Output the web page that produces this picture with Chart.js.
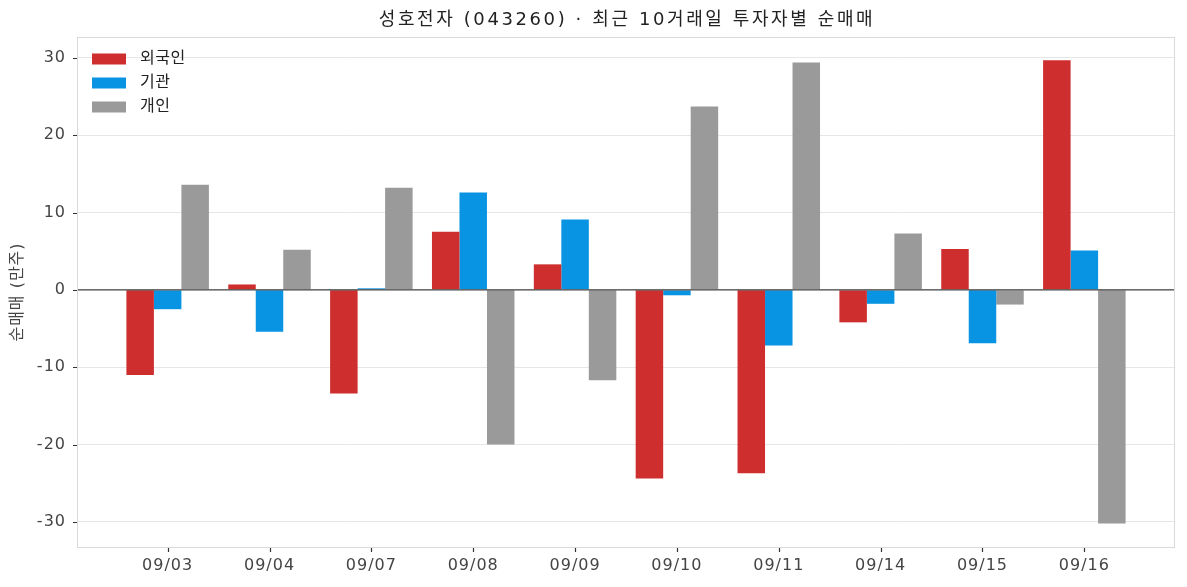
<!DOCTYPE html>
<html>
<head>
<meta charset="utf-8">
<script src="https://cdn.jsdelivr.net/npm/chart.js@4.4.1/dist/chart.umd.min.js"></script>
<style>
html,body{margin:0;padding:0;background:#fff;}
#wrap{width:1187px;height:587px;position:relative;}
</style>
</head>
<body>
<div id="wrap"><canvas id="c" width="1187" height="587"></canvas></div>
<script>
const titleText = '성호전자 (043260) · 최근 10거래일 투자자별 순매매';
const yTitle = '순매매 (만주)';
const dates = ['09/03','09/04','09/07','09/08','09/09','09/10','09/11','09/14','09/15','09/16'];
const foreign = [-11.0, 0.7, -13.4, 7.5, 3.3, -24.4, -23.7, -4.2, 5.3, 29.7];
const institution = [-2.5, -5.4, 0.2, 12.6, 9.1, -0.7, -7.2, -1.8, -6.9, 5.1];
const individual = [13.6, 5.2, 13.2, -20.0, -11.7, 23.7, 29.4, 7.3, -1.9, -30.2];
const seriesNames = ['외국인','기관','개인'];
const seriesColors = ['#cf2e2e','#0994e3','#9a9a9a'];
const yTicks = [-30,-20,-10,0,10,20,30];

const FONT = '"DejaVu Sans", "Noto Sans CJK KR", sans-serif';

const toXY = arr => arr.map((v,i)=>({x:i,y:v}));

const overlay = {
  id:'overlay',
  beforeDraw(chart){
    chart.ctx.letterSpacing = '1px';
  },
  afterDatasetsDraw(chart){
    const {ctx, chartArea:a, scales} = chart;
    const y0 = scales.y.getPixelForValue(0);
    ctx.save();
    ctx.strokeStyle = '#444';
    ctx.lineWidth = 1.2;
    ctx.beginPath(); ctx.moveTo(a.left, y0); ctx.lineTo(a.right, y0); ctx.stroke();
    ctx.strokeStyle = '#d9d9d9';
    ctx.lineWidth = 1;
    ctx.strokeRect(a.left+0.5, a.top+0.5, a.right-a.left-1, a.bottom-a.top);
    ctx.strokeStyle = '#333';
    ctx.lineWidth = 1.2;
    ctx.beginPath();
    scales.x.ticks.forEach(t=>{
      const x = Math.round(scales.x.getPixelForValue(t.value))+0.5;
      ctx.moveTo(x, a.bottom+1); ctx.lineTo(x, a.bottom+5);
    });
    scales.y.ticks.forEach(t=>{
      const y = Math.round(scales.y.getPixelForValue(t.value))+0.5;
      ctx.moveTo(a.left-4, y); ctx.lineTo(a.left, y);
    });
    ctx.stroke();
    ctx.restore();
  },
  afterDraw(chart){
    const {ctx, chartArea:a} = chart;
    ctx.save();
    ctx.fillStyle = '#222';
    ctx.font = '18px ' + FONT;
    ctx.letterSpacing = '2.6px';
    ctx.textAlign = 'center'; ctx.textBaseline = 'middle';
    ctx.fillText(titleText, (a.left+a.right)/2 + 1, 20);
    ctx.fillStyle = '#444';
    ctx.font = '16px ' + FONT;
    ctx.letterSpacing = '1px';
    ctx.translate(18, (a.top+a.bottom)/2);
    ctx.rotate(-Math.PI/2);
    ctx.fillText(yTitle, 0, 0);
    ctx.restore();
    ctx.save();
    ctx.font = '16px ' + FONT;
    ctx.letterSpacing = '0.5px';
    ctx.textAlign = 'left'; ctx.textBaseline = 'middle';
    chart.data.datasets.forEach((ds,i)=>{
      const yy = a.top + 22 + i*24;
      ctx.fillStyle = ds.backgroundColor;
      ctx.fillRect(a.left+15, yy-5.5, 34, 11);
      ctx.fillStyle = '#222';
      ctx.fillText(ds.label, a.left+63, yy);
    });
    ctx.restore();
  }
};

new Chart(document.getElementById('c'), {
  type:'bar',
  data:{
    datasets:[
      {label:seriesNames[0], data:toXY(foreign), backgroundColor:seriesColors[0]},
      {label:seriesNames[1], data:toXY(institution), backgroundColor:seriesColors[1]},
      {label:seriesNames[2], data:toXY(individual), backgroundColor:seriesColors[2]}
    ]
  },
  options:{
    responsive:false,
    animation:false,
    devicePixelRatio:1,
    layout:{padding:{left:0,right:12,top:37,bottom:0}},
    datasets:{bar:{categoryPercentage:0.81, barPercentage:1.0, borderWidth:0}},
    plugins:{legend:{display:false}, title:{display:false}, tooltip:{enabled:false}},
    scales:{
      x:{
        type:'linear', min:-0.89, max:9.89, offset:false,
        afterBuildTicks(s){ s.ticks = dates.map((d,i)=>({value:i})); },
        afterFit(s){ s.height = 40; },
        ticks:{callback:(v)=>dates[v] ?? '', color:'#444', font:{family:FONT,size:16}, padding:4, maxRotation:0, autoSkip:false},
        grid:{offset:false, drawOnChartArea:false, drawTicks:true, tickLength:5, tickColor:'rgba(0,0,0,0)'},
        border:{display:false}
      },
      y:{
        min:-33.25, max:32.7,
        afterBuildTicks(s){ s.ticks = yTicks.map(v=>({value:v})); },
        afterFit(s){ s.width = 77; },
        ticks:{color:'#444', font:{family:FONT,size:16}, padding:6},
        grid:{color:'#e6e6e6', lineWidth:1, drawTicks:true, tickLength:5, tickColor:'rgba(0,0,0,0)'},
        border:{display:false}
      }
    }
  },
  plugins:[overlay]
});
</script>
</body>
</html>
